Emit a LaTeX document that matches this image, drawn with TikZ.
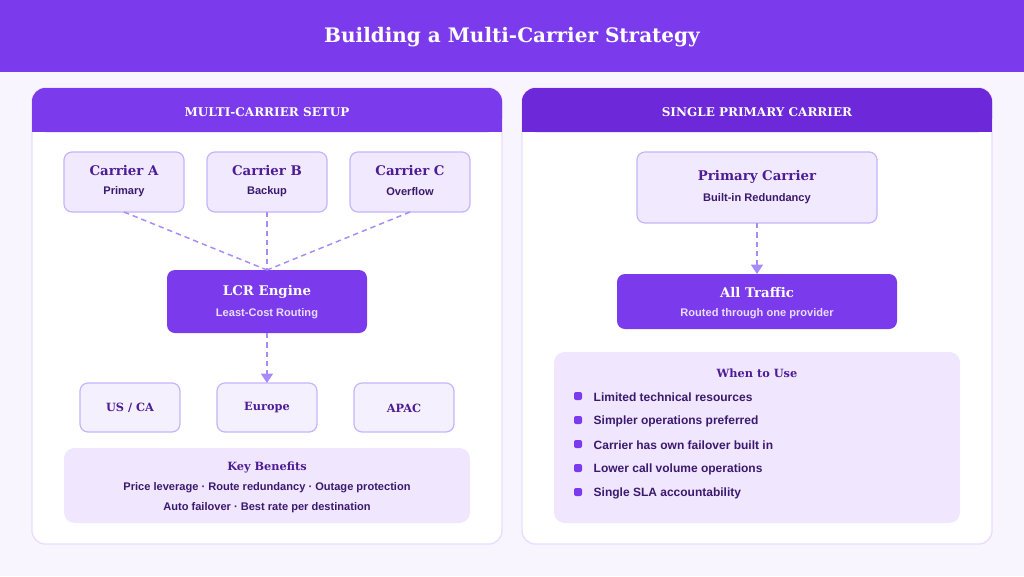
\documentclass[tikz,border=0pt]{standalone}
\usepackage{fontspec}
\setmainfont{Liberation Sans}
\newfontfamily\slab{DejaVu Serif}
\usetikzlibrary{arrows.meta}
\definecolor{bgpage}{HTML}{F8F5FE}
\definecolor{purplemain}{HTML}{7C3AED}
\definecolor{purpledark}{HTML}{6D28D9}
\definecolor{inkdark}{HTML}{4C1D95}
\definecolor{inktext}{HTML}{3B1A6E}
\definecolor{boxfill}{HTML}{F1E9FE}
\definecolor{boxedge}{HTML}{C4B5FD}
\definecolor{panel}{HTML}{E9DDFD}
\definecolor{softfill}{HTML}{F0E6FE}
\definecolor{dashcol}{HTML}{A78BFA}
\begin{document}
\begin{tikzpicture}[
x=0.75pt,y=-0.75pt,
card/.style={draw=boxedge,line width=0.9pt,fill=boxfill,rounded corners=6pt},
solid box/.style={fill=purplemain,rounded corners=6pt},
soft/.style={fill=softfill,rounded corners=8pt},
ttl/.style={font=\slab\bfseries\fontsize{10}{12}\selectfont,text=inkdark},
sub/.style={font=\bfseries\fontsize{8.3}{10}\selectfont,text=inktext},
link/.style={draw=dashcol,line width=1.1pt,dash pattern=on 4pt off 3pt},
flow/.style={link,-{Triangle[width=9pt,length=7pt]}}
]
    % page and header
    \fill[bgpage] (0,0) rectangle (1024,576);
    \useasboundingbox (0,0) rectangle (1024,576);
    \fill[purplemain] (0,0) rectangle (1024,72);
    \node[font=\slab\bfseries\fontsize{15}{18}\selectfont,text=white] (title) at (512,37) {Building a Multi-Carrier Strategy};

    % panels
    \foreach \px/\hc/\htxt in {32/purplemain/MULTI-CARRIER SETUP,522/purpledark/SINGLE PRIMARY CARRIER}{
      \draw[panel,line width=1pt,fill=white,rounded corners=10pt] (\px,88) rectangle ++(470,456);
      \fill[\hc,rounded corners=10pt] (\px,88) rectangle ++(470,44);
      \fill[\hc] (\px,115) rectangle ++(470,17);
      \node[font=\slab\bfseries\fontsize{9}{11}\selectfont,text=white] at (\px+235,112) {\htxt};
    }

    % carriers
    \foreach \cx/\cn/\cs in {124/A/Primary,267/B/Backup,410/C/Overflow}{
      \draw[card] (\cx-60,152) rectangle (\cx+60,212);
      \node[ttl] at (\cx,171) {Carrier \cn};
      \node[sub] at (\cx,192) {\cs};
      \coordinate (car\cn) at (\cx,212);
    }

    % LCR engine
    \fill[solid box] (167,270) rectangle (367,333);
    \node[ttl,text=white] at (267,292) {LCR Engine};
    \node[sub,text=panel] at (267,314) {Least-Cost Routing};
    \coordinate (lcrtop) at (267,270);
    \coordinate (lcrbot) at (267,333);
    \foreach \cn in {A,B,C} \draw[link] (car\cn) -- (lcrtop);

    % regions
    \foreach \rx/\rn/\rt in {130/us/{US / CA},267/eu/Europe,404/ap/APAC}{
      \draw[card,fill=boxfill!70!white] (\rx-50,383) rectangle (\rx+50,432);
      \node[ttl,font=\slab\bfseries\fontsize{8.5}{10}\selectfont] (\rn) at (\rx,408) {\rt};
    }
    \coordinate (eutop) at (267,383);
    \draw[flow] (lcrbot) -- (eutop);

    % key benefits
    \fill[soft] (64,448) rectangle (470,523);
    \node[ttl,font=\slab\bfseries\fontsize{8.5}{10}\selectfont] at (267,467) {Key Benefits};
    \node[sub] at (267,488) {Price leverage · Route redundancy · Outage protection};
    \node[sub] at (267,508) {Auto failover · Best rate per destination};

    % primary carrier
    \draw[card] (637,152) rectangle (877,223);
    \node[ttl] at (757,177) {Primary Carrier};
    \node[sub] at (757,199) {Built-in Redundancy};
    \coordinate (pribot) at (757,223);

    \fill[solid box] (617,274) rectangle (897,329);
    \node[ttl,text=white] at (757,293) {All Traffic};
    \node[sub,text=panel] at (757,314) {Routed through one provider};
    \coordinate (alltop) at (757,274);
    \draw[flow] (pribot) -- (alltop);

    % when to use
    \fill[soft] (554,352) rectangle (960,523);
    \node[ttl,font=\slab\bfseries\fontsize{8.5}{10}\selectfont] at (757,373) {When to Use};
    \foreach \i/\wt in {0/Limited technical resources,1/Simpler operations preferred,2/Carrier has own failover built in,3/Lower call volume operations,4/Single SLA accountability}{
      \fill[purplemain,rounded corners=1.5pt] (574,392+24*\i) rectangle ++(8,8);
      \node[sub,anchor=west,font=\bfseries\fontsize{9}{11}\selectfont] at (589,397+24*\i) {\wt};
    }
\end{tikzpicture}
\end{document}
